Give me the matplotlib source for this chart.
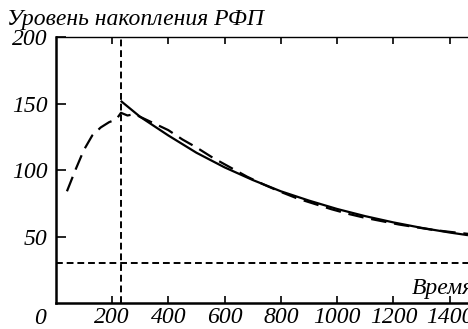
import matplotlib
matplotlib.use("Agg")
import matplotlib.pyplot as plt

# model curve (solid)
t_model = [231, 300, 400, 500, 600, 700, 800, 900, 1000, 1100, 1200, 1300, 1400, 1465]
y_model = [152, 140, 126, 113, 102, 92.5, 84, 77, 70.7, 65.3, 60.6, 56.5, 53, 51]

# measured curve (dashed)
t_meas = [40, 70, 100, 130, 160, 190, 215, 232, 255, 280, 320, 360, 400, 450, 500,
          560, 620, 680, 740, 800, 860, 920, 980, 1040, 1100, 1160, 1220, 1280,
          1340, 1400, 1465]
y_meas = [84, 100, 115, 126, 132, 136, 138, 143, 141, 142, 138, 134, 130, 123, 117,
          109, 102, 95, 89, 83.5, 78.5, 74.5, 70.5, 67, 64, 61.5, 59, 57,
          55, 53.5, 52]

t_mark = 231      # vertical reference line
level = 30        # horizontal threshold line

xticks = [200, 400, 600, 800, 1000, 1200, 1400]
yticks = [50, 100, 150, 200]

plt.rcParams['font.family'] = ['Liberation Serif', 'DejaVu Serif']
plt.rcParams['font.style'] = 'italic'
plt.rcParams['font.size'] = 17

fig = plt.figure(figsize=(4.68, 3.29), dpi=100)
ax = fig.add_axes([0.119, 0.079, 0.881, 0.8085])

ax.plot(t_model, y_model, color='black', lw=1.6, solid_capstyle='butt')
ax.plot(t_meas, y_meas, color='black', lw=1.6, dashes=(7, 3.5))
ax.axvline(t_mark, color='black', lw=1.4, dashes=(3.5, 2))
ax.axhline(level, color='black', lw=1.4, dashes=(3.5, 2))

ax.set_xlim(0, 1465)
ax.set_ylim(0, 200)
ax.set_xticks(xticks)
ax.set_yticks(yticks)
ax.tick_params(direction='in', length=5, width=1.2, top=True)
ax.tick_params(axis='x', pad=3)
ax.tick_params(axis='y', length=7, pad=6)
ax.spines['right'].set_visible(False)
ax.spines['left'].set_linewidth(1.8)
ax.spines['bottom'].set_linewidth(1.8)
ax.spines['top'].set_linewidth(1.0)

fig.text(40 / 468, 1 - 319 / 329, '0', ha='center', va='center')
fig.text(7 / 468, 1 - 20 / 329, 'Уровень накопления РФП', ha='left', va='center')
fig.text(412 / 468, 1 - 294 / 329, 'Время', ha='left', va='baseline')

fig.savefig('out.png', dpi=100)
